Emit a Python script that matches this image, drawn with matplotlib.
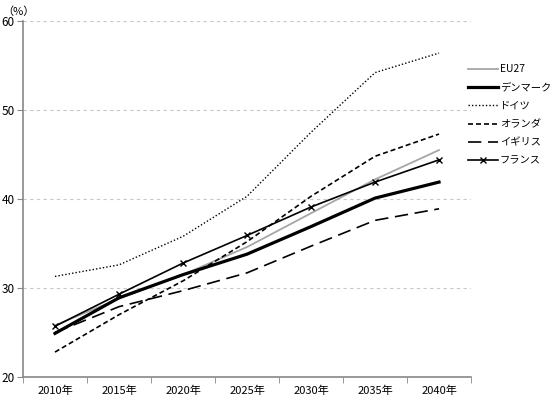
import matplotlib
matplotlib.use("Agg")
import matplotlib.pyplot as plt
import numpy as np

plt.rcParams['font.family'] = ['Noto Sans CJK JP', 'DejaVu Sans']

years = ["2010年", "2015年", "2020年", "2025年", "2030年", "2035年", "2040年"]
eu27 = [25.8, 28.8, 31.5, 34.6, 38.4, 42.2, 45.5]
denmark = [24.9, 28.9, 31.5, 33.8, 36.9, 40.1, 41.9]
germany = [31.3, 32.6, 35.8, 40.3, 47.5, 54.2, 56.4]
netherlands = [22.8, 27.0, 30.8, 35.2, 40.3, 44.8, 47.3]
uk = [25.0, 27.9, 29.7, 31.7, 34.7, 37.6, 38.9]
france = [25.7, 29.3, 32.8, 35.9, 39.1, 41.9, 44.4]

fig = plt.figure(figsize=(5.5, 3.98), dpi=100)
ax = fig.add_axes([0.0418, 0.0528, 0.8146, 0.8944])
x = np.arange(len(years))

ax.plot(x, eu27, color="#a6a6a6", lw=1.3, label="EU27")
ax.plot(x, denmark, color="black", lw=2.3, label="デンマーク")
ax.plot(x, germany, color="black", lw=1.0, ls=(0, (1, 1.5)), label="ドイツ")
ax.plot(x, netherlands, color="black", lw=1.2, ls=(0, (3, 1.8)), label="オランダ")
ax.plot(x, uk, color="black", lw=1.2, ls=(0, (8, 4)), label="イギリス")
ax.plot(x, france, color="black", lw=1.2, marker="x", ms=4.5, mew=1.0, label="フランス")

ax.set_xlim(-0.5, len(years) - 0.5)
ax.set_ylim(20, 60)
ax.set_yticks([20, 30, 40, 50, 60])
ax.set_xticks(x)
ax.set_xticklabels(years)
ax.set_xticks(np.arange(-0.5, len(years)), minor=True)
ax.tick_params(axis="x", which="major", length=0, labelsize=8, pad=6)
ax.tick_params(axis="x", which="minor", length=4, color="#888888", direction="out")
ax.tick_params(axis="y", length=4, color="#888888", labelsize=8.5, pad=2)
ax.yaxis.grid(True, ls=(0, (3, 3)), color="#c8c8c8", lw=0.8)
ax.set_axisbelow(True)
for s in ["top", "right"]:
    ax.spines[s].set_visible(False)
for s in ["left", "bottom"]:
    ax.spines[s].set_color("#888888")
    ax.spines[s].set_linewidth(1.2)

fig.text(0.005, 0.985, "（%）", fontsize=8, va="top", ha="left")

fig.legend(loc="upper left", bbox_to_anchor=(0.851, 0.838), frameon=False,
           fontsize=7.4, handlelength=2.9, handletextpad=0.2, labelspacing=0.8,
           borderaxespad=0.0, borderpad=0.0)

fig.savefig("out.png", dpi=100)
